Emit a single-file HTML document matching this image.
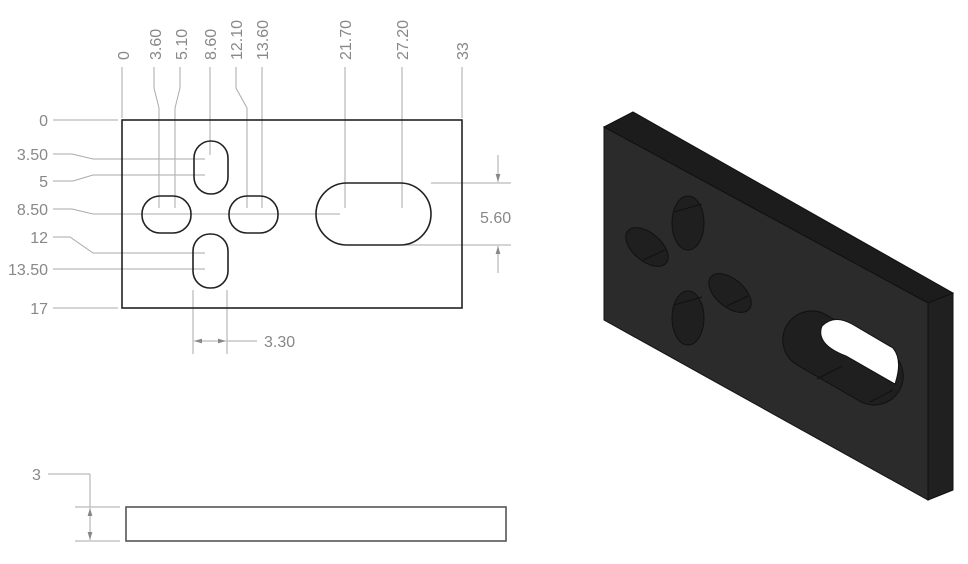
<!DOCTYPE html>
<html><head><meta charset="utf-8"><style>
html,body{margin:0;padding:0;background:#fff;}
svg{display:block;}
text{font-family:"Liberation Sans",sans-serif;fill:#888;font-size:16px;}
</style></head><body>
<svg width="968" height="564" viewBox="0 0 968 564" xmlns="http://www.w3.org/2000/svg">
<defs>
<marker id="ar" viewBox="0 0 10 10" refX="10" refY="5" markerWidth="8" markerHeight="8" orient="auto-start-reverse"><path d="M0,2 L10,5 L0,8 Z" fill="#888"/></marker>
</defs>
<g stroke="#aaa" stroke-width="1" fill="none">
<polyline points="122,67 122,118"/>
<polyline points="154,67 154,88 159,108 159,208"/>
<polyline points="180,67 180,88 175,108 175,208"/>
<polyline points="210,67 210,155"/>
<polyline points="236,67 236,88 247,108 247,208"/>
<polyline points="262,67 262,208"/>
<polyline points="345,67 345,208"/>
<polyline points="402,67 402,208"/>
<polyline points="462,67 462,118"/>
<polyline points="53,120 118,120"/>
<polyline points="53,154 72,154 93,159 205,159"/>
<polyline points="53,181 73,181 93,175 205,175"/>
<polyline points="53,209 72,209 93,214 340,214"/>
<polyline points="53,237 70,237 93,253 205,253"/>
<polyline points="53,269 205,269"/>
<polyline points="53,308 118,308"/>
<line x1="431" y1="183" x2="511" y2="183"/>
<line x1="405" y1="245" x2="511" y2="245"/>
<line x1="498" y1="155" x2="498" y2="182" marker-end="url(#ar)"/>
<line x1="498" y1="273" x2="498" y2="246" marker-end="url(#ar)"/>
<line x1="193" y1="290" x2="193" y2="354"/>
<line x1="227" y1="290" x2="227" y2="354"/>
<line x1="210" y1="341" x2="194" y2="341" marker-end="url(#ar)"/>
<line x1="210" y1="341" x2="226" y2="341" marker-end="url(#ar)"/>
<line x1="227" y1="341" x2="257" y2="341"/>
<line x1="48" y1="474" x2="90" y2="474"/>
<line x1="90" y1="474" x2="90" y2="507"/>
<line x1="90" y1="524" x2="90" y2="508" marker-end="url(#ar)"/>
<line x1="90" y1="524" x2="90" y2="540" marker-end="url(#ar)"/>
<line x1="75" y1="507" x2="120" y2="507"/>
<line x1="75" y1="541" x2="120" y2="541"/>
</g>
<g stroke="#222" stroke-width="1.6" fill="none">
<rect x="122" y="120" width="340" height="188"/>
<rect x="194" y="141" width="34" height="53" rx="17"/>
<rect x="193" y="234" width="35" height="54" rx="17"/>
<rect x="142" y="196" width="49" height="37" rx="18"/>
<rect x="229" y="196" width="49" height="37" rx="18"/>
<rect x="316" y="183" width="115" height="62" rx="31"/>
<rect x="126" y="507" width="380" height="34" stroke="#555"/>
</g>
<g>
<text x="48" y="126" text-anchor="end">0</text>
<text x="48" y="160" text-anchor="end">3.50</text>
<text x="48" y="187" text-anchor="end">5</text>
<text x="48" y="215" text-anchor="end">8.50</text>
<text x="48" y="243" text-anchor="end">12</text>
<text x="48" y="275" text-anchor="end">13.50</text>
<text x="48" y="314" text-anchor="end">17</text>
<text x="480" y="223">5.60</text>
<text x="264" y="347">3.30</text>
<text x="32" y="480">3</text>
<g transform="translate(129,60) rotate(-90)"><text x="0" y="0">0</text></g>
<g transform="translate(161,60) rotate(-90)"><text x="0" y="0">3.60</text></g>
<g transform="translate(187,60) rotate(-90)"><text x="0" y="0">5.10</text></g>
<g transform="translate(216,60) rotate(-90)"><text x="0" y="0">8.60</text></g>
<g transform="translate(242,60) rotate(-90)"><text x="0" y="0">12.10</text></g>
<g transform="translate(268,60) rotate(-90)"><text x="0" y="0">13.60</text></g>
<g transform="translate(351,60) rotate(-90)"><text x="0" y="0">21.70</text></g>
<g transform="translate(408,60) rotate(-90)"><text x="0" y="0">27.20</text></g>
<g transform="translate(468,60) rotate(-90)"><text x="0" y="0">33</text></g>
</g>
<g stroke="#111" stroke-width="1">
<polygon points="604,127 633,112 953,293 928,303" fill="#1c1c1c"/>
<polygon points="928,303 953,293 953,490 928,500" fill="#202020"/>
<polygon points="604,127 928,303 928,500 604,320" fill="#2b2b2b"/>
<ellipse cx="688" cy="223" rx="16" ry="27" fill="#1f1f1f"/>
<ellipse cx="688" cy="318" rx="16" ry="27" fill="#1f1f1f"/>
<ellipse cx="647" cy="247" rx="25" ry="14" transform="rotate(40 647 247)" fill="#1f1f1f"/>
<ellipse cx="730" cy="293" rx="25" ry="14" transform="rotate(40 730 293)" fill="#1f1f1f"/>
<rect x="778" y="329" width="130" height="58" rx="29" transform="rotate(30 843 358)" fill="#1f1f1f"/>
<path d="M822,326 Q834,314 852,324 L893,348 Q903,360 895,384 L846,356 Q815,344 822,326 Z" fill="#fff"/>
<line x1="674" y1="212" x2="702" y2="204"/>
<line x1="674" y1="305" x2="702" y2="297"/>
<line x1="643" y1="260" x2="665" y2="250"/>
<line x1="727" y1="306" x2="748" y2="296"/>
<line x1="817" y1="379" x2="842" y2="366"/>
<line x1="870" y1="402" x2="893" y2="390"/>
</g>
</svg>
</body></html>
